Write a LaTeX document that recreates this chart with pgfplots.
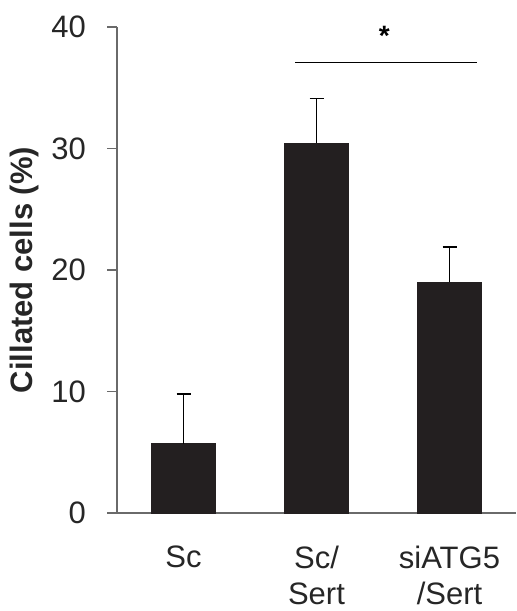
\documentclass[border=0pt]{standalone}
\usepackage{fontspec}
\setmainfont{Liberation Sans}
\usepackage{pgfplots}
\pgfplotsset{compat=1.18}
\definecolor{barc}{HTML}{231F20}
\definecolor{axc}{HTML}{6A6A6A}
\begin{document}
\begin{tikzpicture}
\useasboundingbox (0,0) rectangle (258pt,305.5pt);
\begin{axis}[
  at={(58.5pt,49pt)}, anchor=south west,
  scale only axis, width=199.5pt, height=243pt,
  xmin=-0.5, xmax=2.5, ymin=0, ymax=40,
  axis x line=bottom, axis y line=left,
  axis line style={axc, line width=0.6pt, -},
  tick style={axc, line width=0.6pt},
  tick align=outside,
  major tick length=5pt,
  ytick={0,10,20,30,40},
  xtick={0,1,2},
  xticklabels={Sc, {Sc/\\Sert}, {siATG5\\/Sert}},
  x tick style={draw=none},
  extra x ticks={-0.5,0.5,1.5,2.5},
  extra x tick labels={},
  extra x tick style={tick style={axc, line width=0.6pt}, major tick length=5pt},
  /pgf/number format/assume math mode=true,
  ticklabel style={font=\fontsize{15.5}{18}\selectfont, text=black!85},
  xticklabel style={align=center, anchor=north, yshift=-8pt},
  yticklabel style={xshift=-7pt},
  ylabel={\textbf{Cillated cells (\%)}},
  every axis y label/.style={at={(axis description cs:-0.231,0.5)}, rotate=90, anchor=center,
     font=\fontsize{15.5}{18}\selectfont, text=black!85},
  clip=false,
]
\addplot[ybar, bar width=32pt, fill=barc, draw=barc,
  error bars/.cd, y dir=plus, y explicit,
  error bar style={black, line width=0.7pt},
  error mark options={black, line width=0.7pt, mark size=3.5pt, rotate=90}]
  coordinates {(0,5.7) +- (0,4.1) (1,30.45) +- (0,3.65) (2,19.0) +- (0,2.9)};
\addplot[black, line width=0.7pt, mark=none] coordinates {(0.84,37.1) (2.21,37.1)};
\node[font=\fontsize{14}{18}\bfseries] at (axis cs:1.51,39.3) {*};
\end{axis}
\end{tikzpicture}
\end{document}
